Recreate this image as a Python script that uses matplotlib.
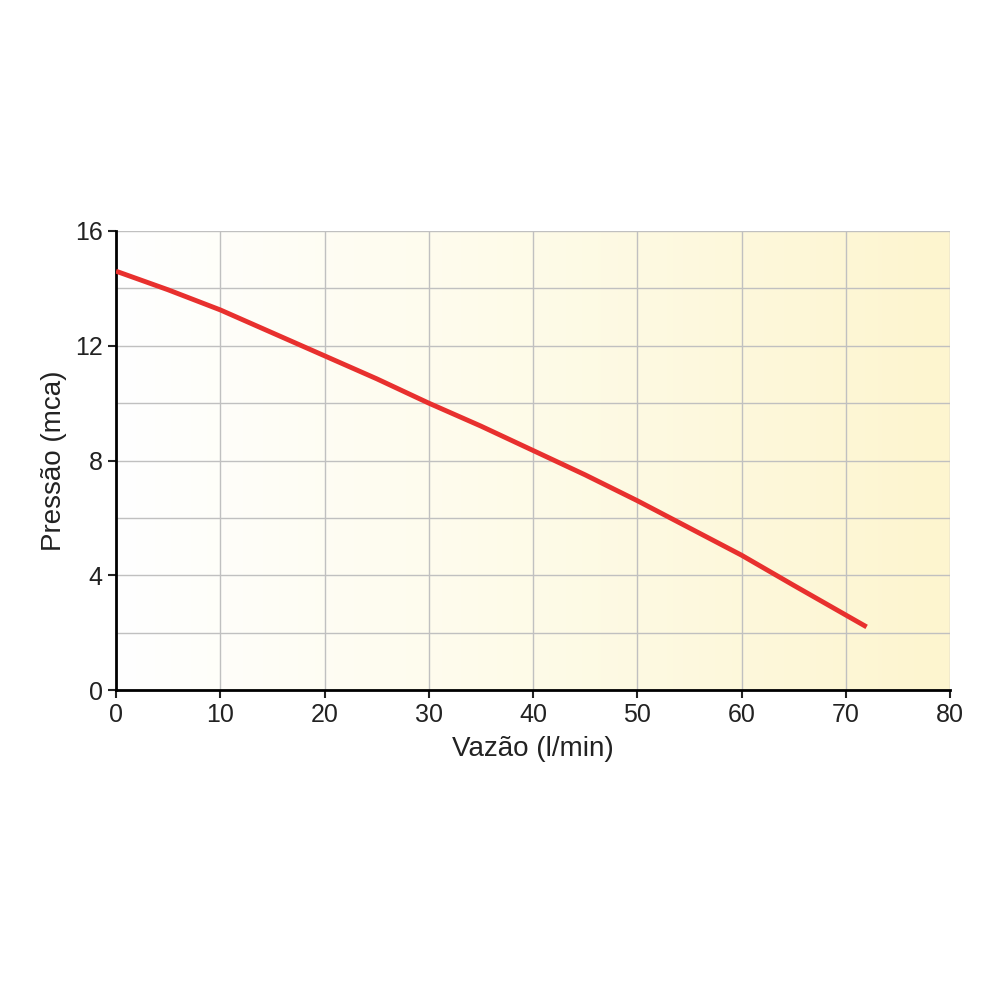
import numpy as np
import matplotlib
matplotlib.use("Agg")
import matplotlib.pyplot as plt
from matplotlib.colors import LinearSegmentedColormap

flow = [0, 5, 10, 15, 20, 25, 30, 35, 40, 45, 50, 55, 60, 65, 72]
pressure = [14.6, 13.95, 13.25, 12.45, 11.65, 10.85, 10.0, 9.2, 8.35, 7.5, 6.6, 5.65, 4.7, 3.65, 2.2]
xticks = [0, 10, 20, 30, 40, 50, 60, 70, 80]
yticks = [0, 4, 8, 12, 16]

plt.rcParams['font.family'] = ['Liberation Sans', 'DejaVu Sans']
fig = plt.figure(figsize=(10, 10), dpi=100)
ax = fig.add_axes([0.116, 0.31, 0.834, 0.459])

cmap = LinearSegmentedColormap.from_list("bg", ["#ffffff", "#fefbe8", "#fdf5cf"])
grad = np.linspace(0, 1, 256).reshape(1, -1)
ax.imshow(grad, extent=[0, 80, 0, 16], aspect='auto', cmap=cmap, zorder=0)

ax.set_xlim(0, 80)
ax.set_ylim(0, 16)
ax.set_xticks(xticks)
ax.set_yticks(yticks)
ax.set_yticks(np.arange(0, 17, 2), minor=True)
ax.grid(True, which='both', color='#c0c0c0', linewidth=1.0, zorder=1)
ax.tick_params(axis='y', which='minor', length=0)
ax.tick_params(labelsize=18, length=6, width=1.5, direction='out', colors='#222222')

for s in ['top', 'right']:
    ax.spines[s].set_visible(False)
for s in ['left', 'bottom']:
    ax.spines[s].set_linewidth(2)
    ax.spines[s].set_zorder(3)

ax.plot(flow, pressure, color='#e8302e', linewidth=3.5, zorder=4, solid_capstyle='butt')

ax.set_xlabel('Vazão (l/min)', fontsize=20, labelpad=6, color='#222222')
ax.set_ylabel('Pressão (mca)', fontsize=20, labelpad=6, color='#222222')

fig.savefig('out.png', dpi=100, facecolor='white')
